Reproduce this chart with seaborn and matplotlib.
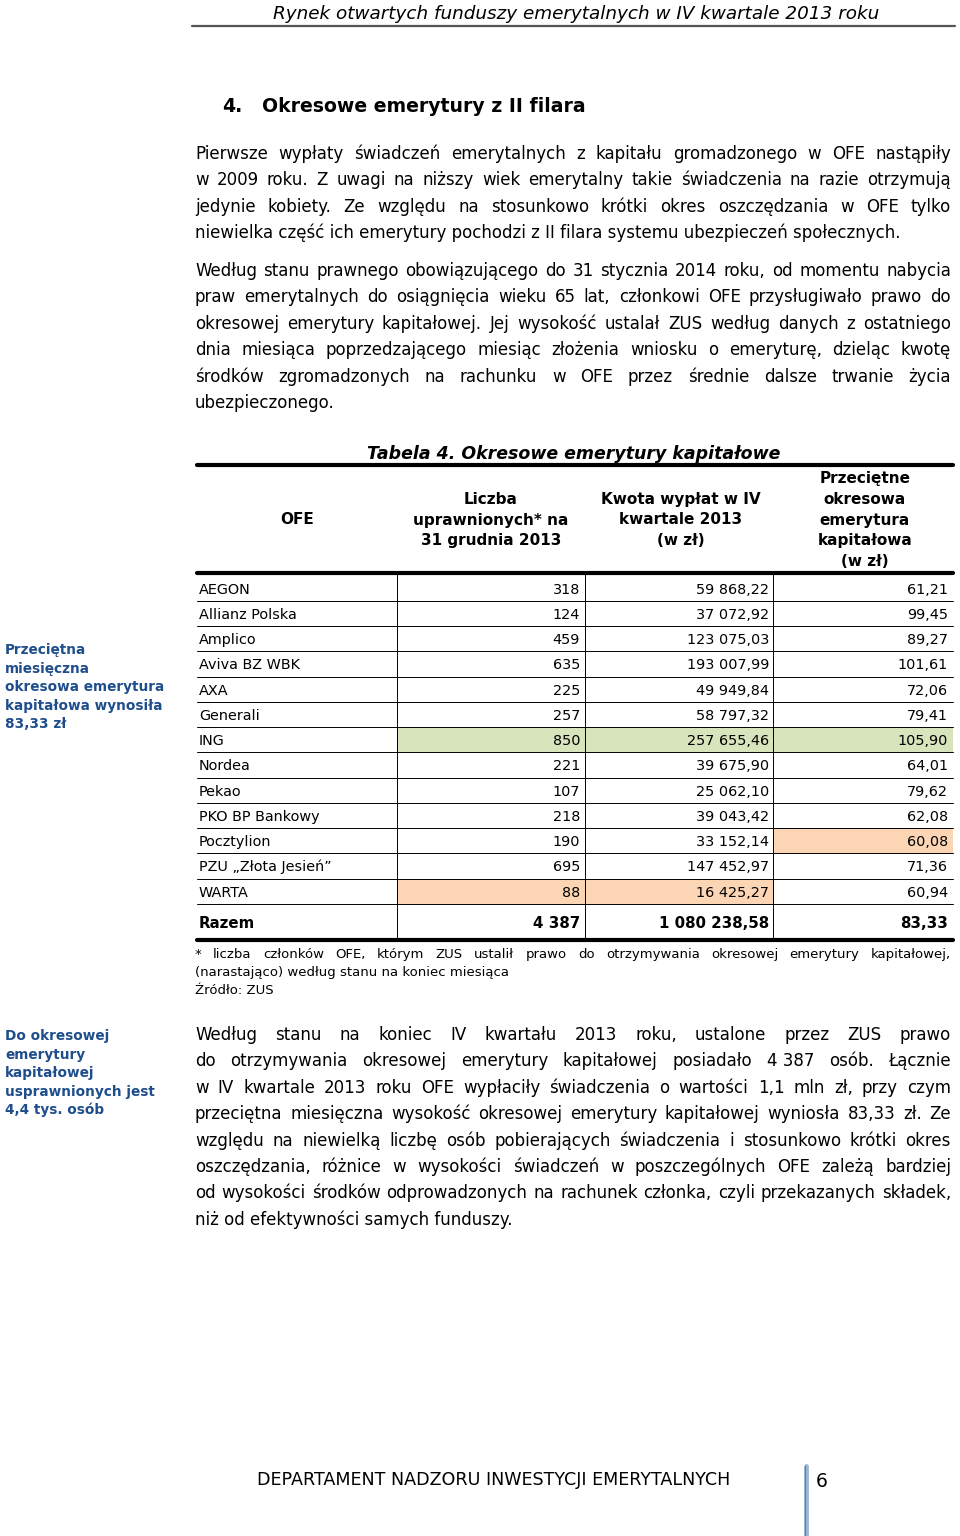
import numpy as np
import matplotlib
matplotlib.use("Agg")
import matplotlib.pyplot as plt
import seaborn as sns
from matplotlib.colors import ListedColormap

# table data
ofe = ["AEGON", "Allianz Polska", "Amplico", "Aviva BZ WBK", "AXA", "Generali", "ING",
       "Nordea", "Pekao", "PKO BP Bankowy", "Pocztylion", "PZU \u201eZłota Jesień\u201d", "WARTA"]
uprawnieni = [318, 124, 459, 635, 225, 257, 850, 221, 107, 218, 190, 695, 88]
kwota = [59868.22, 37072.92, 123075.03, 193007.99, 49949.84, 58797.32, 257655.46,
         39675.90, 25062.10, 39043.42, 33152.14, 147452.97, 16425.27]
przecietna = [61.21, 99.45, 89.27, 101.61, 72.06, 79.41, 105.90,
              64.01, 79.62, 62.08, 60.08, 71.36, 60.94]
razem = [4387, 1080238.58, 83.33]

col_headers = [["OFE"],
               ["Liczba", "uprawnionych* na", "31 grudnia 2013"],
               ["Kwota wypłat w IV", "kwartale 2013", "(w zł)"],
               ["Przeciętne", "okresowa", "emerytura", "kapitałowa", "(w zł)"]]

para1 = ["Pierwsze wypłaty świadczeń emerytalnych z kapitału gromadzonego w OFE nastąpiły",
         "w 2009 roku. Z uwagi na niższy wiek emerytalny takie świadczenia na razie otrzymują",
         "jedynie kobiety. Ze względu na stosunkowo krótki okres oszczędzania w OFE tylko",
         "niewielka część ich emerytury pochodzi z II filara systemu ubezpieczeń społecznych."]
para2 = ["Według stanu prawnego obowiązującego do 31 stycznia 2014 roku, od momentu nabycia",
         "praw emerytalnych do osiągnięcia wieku 65 lat, członkowi OFE przysługiwało prawo do",
         "okresowej emerytury kapitałowej. Jej wysokość ustalał ZUS według danych z ostatniego",
         "dnia miesiąca poprzedzającego miesiąc złożenia wniosku o emeryturę, dzieląc kwotę",
         "środków zgromadzonych na rachunku w OFE przez średnie dalsze trwanie życia",
         "ubezpieczonego."]
para3 = ["Według stanu na koniec IV kwartału 2013 roku, ustalone przez ZUS prawo",
         "do otrzymywania okresowej emerytury kapitałowej posiadało 4\u00a0387 osób. Łącznie",
         "w IV kwartale 2013 roku OFE wypłaciły świadczenia o wartości 1,1 mln zł, przy czym",
         "przeciętna miesięczna wysokość okresowej emerytury kapitałowej wyniosła 83,33 zł. Ze",
         "względu na niewielką liczbę osób pobierających świadczenia i stosunkowo krótki okres",
         "oszczędzania, różnice w wysokości świadczeń w poszczególnych OFE zależą bardziej",
         "od wysokości środków odprowadzonych na rachunek członka, czyli przekazanych składek,",
         "niż od efektywności samych funduszy."]
footnote = ["* liczba członków OFE, którym ZUS ustalił prawo do otrzymywania okresowej emerytury kapitałowej,",
            "(narastająco) według stanu na koniec miesiąca",
            "Źródło: ZUS"]
side1 = ["Przeciętna", "miesięczna", "okresowa emerytura", "kapitałowa wynosiła", "83,33 zł"]
side2 = ["Do okresowej", "emerytury", "kapitałowej", "usprawnionych jest", "4,4 tys. osób"]

GREEN = "#d8e4bc"
ORANGE = "#fcd5b4"
BLUE = "#1f4e8c"


def fmt_int(v):
    return f"{v:,}".replace(",", " ")


def fmt_dec(v):
    return f"{v:,.2f}".replace(",", " ").replace(".", ",")


sns.set_theme(style="white")
plt.rcParams["font.family"] = ["DejaVu Sans"]
plt.rcParams["text.color"] = "black"

fig = plt.figure(figsize=(9.6, 15.36), dpi=100)
ax = fig.add_axes([0, 0, 1, 1])
ax.set_xlim(0, 960)
ax.set_ylim(1536, 0)
ax.axis("off")
ax.set_zorder(2)
ax.patch.set_visible(False)
renderer = fig.canvas.get_renderer()


def justified(lines, y0, step, size, n_just, x0=195, x1=951):
    for i, line in enumerate(lines):
        y = y0 + i * step
        words = line.split(" ")
        if i >= n_just or len(words) == 1:
            ax.text(x0, y, line, fontsize=size, va="baseline")
            continue
        ts = [ax.text(0, y, w, fontsize=size, va="baseline") for w in words]
        widths = [t.get_window_extent(renderer).width for t in ts]
        gap = (x1 - x0 - sum(widths)) / (len(words) - 1)
        x = x0
        for t, w in zip(ts, widths):
            t.set_x(x)
            x += w + gap


# page header
ax.text(576, 19, "Rynek otwartych funduszy emerytalnych w IV kwartale 2013 roku",
        fontsize=13.2, style="italic", ha="center", va="baseline")
ax.plot([192, 955], [26, 26], color="#555555", lw=1.6)

# section title
ax.text(222, 112, "4.", fontsize=13.6, weight="bold", va="baseline")
ax.text(262, 112, "Okresowe emerytury z II filara", fontsize=13.6, weight="bold", va="baseline")

justified(para1, 159, 26.3, 12, 3)
justified(para2, 276, 26.4, 12, 5)

# table
ax.text(574, 459, "Tabela 4. Okresowe emerytury kapitałowe", fontsize=12.5,
        weight="bold", style="italic", ha="center", va="baseline")

col_edges = [197, 397, 585, 773, 953]
row_top, row_h = 575.5, 25.25
n = len(ofe)

# highlight codes: 1 = max (green), 2 = min (orange)
values = np.column_stack([uprawnieni, kwota, przecietna])
codes = np.zeros_like(values, dtype=int)
for j in range(3):
    codes[np.argmax(values[:, j]), j] = 1
    codes[np.argmin(values[:, j]), j] = 2

cmap = ListedColormap(["white", GREEN, ORANGE])
for j in range(3):
    x0, x1 = col_edges[j + 1], col_edges[j + 2]
    hax = fig.add_axes([x0 / 960, 1 - (row_top + n * row_h) / 1536,
                        (x1 - x0) / 960, n * row_h / 1536])
    hax.set_zorder(1)
    sns.heatmap(codes[:, j:j + 1], ax=hax, cmap=cmap, vmin=-0.5, vmax=2.5,
                cbar=False, xticklabels=False, yticklabels=False, linewidths=0)

# header cells
centers = [297, 491, 681, 865]
for c, lines in zip(centers, col_headers):
    k = len(lines)
    for i, t in enumerate(lines):
        y = 519 + (i - (k - 1) / 2) * 20.8 + 5.5
        ax.text(c, y, t, fontsize=11, weight="bold", ha="center", va="baseline")

# rows
fs = 10.4
for i in range(n):
    y = row_top + (i + 0.5) * row_h + 5.5
    ax.text(199, y, ofe[i], fontsize=fs, va="baseline")
    ax.text(580, y, fmt_int(uprawnieni[i]), fontsize=fs, ha="right", va="baseline")
    ax.text(769, y, fmt_dec(kwota[i]), fontsize=fs, ha="right", va="baseline")
    ax.text(948, y, fmt_dec(przecietna[i]), fontsize=fs, ha="right", va="baseline")

ry = 927.5
ax.text(199, ry, "Razem", fontsize=10.8, weight="bold", va="baseline")
ax.text(580, ry, fmt_int(razem[0]), fontsize=10.8, weight="bold", ha="right", va="baseline")
ax.text(769, ry, fmt_dec(razem[1]), fontsize=10.8, weight="bold", ha="right", va="baseline")
ax.text(948, ry, fmt_dec(razem[2]), fontsize=10.8, weight="bold", ha="right", va="baseline")

# grid lines
for k in range(1, n + 1):
    yy = row_top + k * row_h
    ax.plot([197, 953], [yy, yy], color="black", lw=0.7)
for xx in col_edges[1:4]:
    ax.plot([xx, xx], [573, 940], color="black", lw=0.7)
for yy in [465, 573, 940]:
    ax.plot([197, 953], [yy, yy], color="black", lw=3)

justified(footnote, 958, 18, 9.55, 1)

justified(para3, 1040, 26.4, 12, 7)

# side notes
for i, t in enumerate(side1):
    ax.text(5, 654 + i * 18.6, t, fontsize=9.8, weight="bold", color=BLUE, va="baseline")
for i, t in enumerate(side2):
    ax.text(5, 1040 + i * 18.6, t, fontsize=9.8, weight="bold", color=BLUE, va="baseline")

# footer
ax.text(257, 1485, "DEPARTAMENT NADZORU INWESTYCJI EMERYTALNYCH", fontsize=12.6, va="baseline")
ax.plot([806, 806], [1466, 1536], color="#9bb7d4", lw=3.5)
ax.plot([805, 805], [1466, 1536], color="#5a7fa8", lw=0.8)
ax.text(816, 1487, "6", fontsize=13.5, va="baseline")

fig.savefig("out.png", dpi=100)
